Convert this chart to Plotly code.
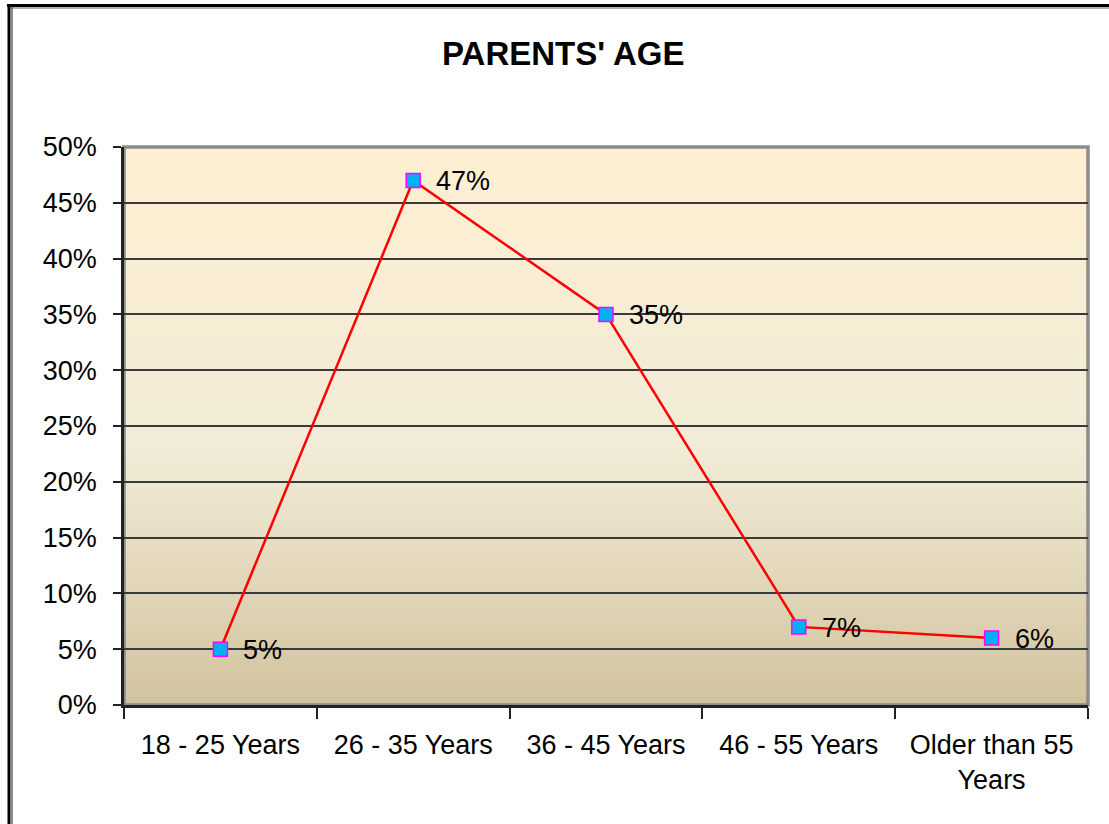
import plotly.graph_objects as go

categories = ["18 - 25 Years", "26 - 35 Years", "36 - 45 Years", "46 - 55 Years", "Older than 55<br>Years"]
values = [0.05, 0.47, 0.35, 0.07, 0.06]
labels = ["5%", "47%", "35%", "7%", "6%"]
title_text = "PARENTS' AGE"

W, H = 1109, 824
L, R, T, B = 124, 1088, 147, 705
FONT = "Liberation Sans, Arial, sans-serif"

def px_x(px):
    return (px - L) / (R - L)

def px_y(py):
    return (B - py) / (B - T)

fig = go.Figure()
fig.add_trace(go.Scatter(
    x=categories, y=values, mode="lines+markers",
    line=dict(color="#FF0000", width=2.5),
    marker=dict(symbol="square", size=14, color="#00B0F0",
                line=dict(color="#FF00FF", width=1.5)),
    hoverinfo="skip", showlegend=False, cliponaxis=False,
))

# data labels
for c, v, t in zip(categories, values, labels):
    fig.add_annotation(x=c, y=v, text=t, showarrow=False, xanchor="left",
                       yanchor="middle", xshift=21, yshift=-1,
                       font=dict(family=FONT, size=27, color="#000000"))

shapes = []
# gradient background (styling)
stops = [(0.0, (210, 195, 158)), (0.45, (241, 235, 215)), (1.0, (254, 239, 210))]
N = 120
for i in range(N):
    f0, f1 = i / N, (i + 1) / N
    fm = (f0 + f1) / 2
    for (a, ca), (b, cb) in zip(stops[:-1], stops[1:]):
        if a <= fm <= b:
            t = (fm - a) / (b - a)
            col = tuple(round(ca[k] + (cb[k] - ca[k]) * t) for k in range(3))
            break
    shapes.append(dict(type="rect", xref="x domain", yref="y domain",
                       x0=0, x1=1, y0=f0, y1=f1 + 0.002, layer="below",
                       line=dict(width=0), fillcolor="rgb(%d,%d,%d)" % col))
# plot area border (gray)
shapes.append(dict(type="rect", xref="x domain", yref="y domain", x0=0, x1=1, y0=0, y1=1,
                   layer="below", line=dict(color="#8C8C8C", width=3.5)))
# outer chart border
shapes.append(dict(type="line", xref="paper", yref="paper", x0=px_x(7), x1=px_x(W + 5),
                   y0=px_y(5.5), y1=px_y(5.5), line=dict(color="#000000", width=3)))
shapes.append(dict(type="line", xref="paper", yref="paper", x0=px_x(11), x1=px_x(W + 5),
                   y0=px_y(8), y1=px_y(8), line=dict(color="#606060", width=1)))
shapes.append(dict(type="line", xref="paper", yref="paper", x0=px_x(9), x1=px_x(9),
                   y0=px_y(4), y1=px_y(H + 5), line=dict(color="#000000", width=3)))
shapes.append(dict(type="line", xref="paper", yref="paper", x0=px_x(12), x1=px_x(12),
                   y0=px_y(7), y1=px_y(H + 5), line=dict(color="#404040", width=1.2)))

fig.add_annotation(xref="paper", yref="paper", x=px_x(563), y=px_y(53), text="<b>" + title_text + "</b>",
                   showarrow=False, xanchor="center", yanchor="middle",
                   font=dict(family=FONT, size=33, color="#000000"))

fig.update_layout(
    width=W, height=H,
    margin=dict(l=L, r=W - R, t=T, b=H - B, autoexpand=False),
    paper_bgcolor="#FFFFFF", plot_bgcolor="rgba(0,0,0,0)",
    shapes=shapes,
    font=dict(family=FONT, size=27, color="#000000"),
)
fig.update_xaxes(
    type="category", range=[-0.5, 4.5], tickson="boundaries",
    ticks="outside", ticklen=11, tickwidth=1.5, tickcolor="#222222",
    showline=True, linecolor="#222222", linewidth=2.5, showgrid=False,
    tickfont=dict(family=FONT, size=27, color="#000000"), ticklabelstandoff=14,
)
fig.update_yaxes(
    range=[0, 0.5], dtick=0.05, tickformat=".0%",
    ticks="outside", ticklen=8, tickwidth=1.5, tickcolor="#222222",
    showline=True, linecolor="#222222", linewidth=2.5,
    showgrid=True, gridcolor="#3A3A3A", gridwidth=1.5, zeroline=False,
    tickfont=dict(family=FONT, size=27, color="#000000"), ticklabelstandoff=11,
)
fig.write_html("out.html", config={"displayModeBar": False},
               post_script="document.body.style.margin='0';document.body.style.overflow='hidden';")
